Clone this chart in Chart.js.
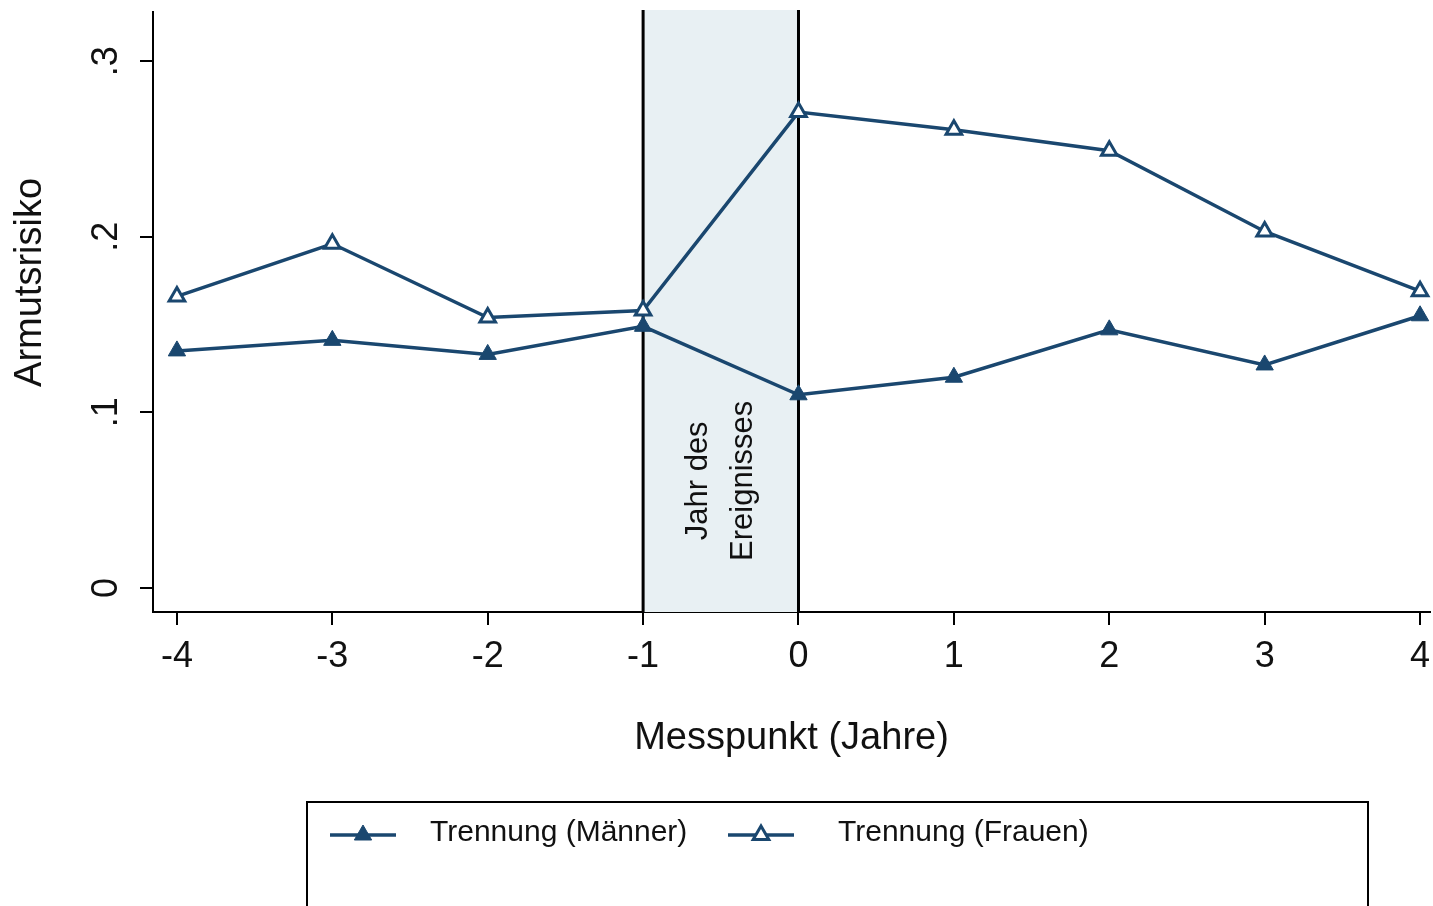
<!DOCTYPE html>
<html lang="de">
<head>
<meta charset="utf-8">
<title>Armutsrisiko nach Trennung</title>
<script src="https://cdn.jsdelivr.net/npm/chart.js@4.4.1/dist/chart.umd.min.js"></script>
<style>
  html, body { margin: 0; padding: 0; background: #fff; }
  #wrap { width: 1433px; height: 906px; }
</style>
</head>
<body>
<div id="wrap"><canvas id="chart"></canvas></div>
<script>
// Messpunkte relativ zum Jahr der Trennung
const X_VALUES = [-4, -3, -2, -1, 0, 1, 2, 3, 4]
const X_TICKS = [-4, -3, -2, -1, 0, 1, 2, 3, 4]
const Y_TICKS = [0, 0.1, 0.2, 0.3]
const Y_TICK_LABELS = ["0", ".1", ".2", ".3"]

const MAENNER = [0.135, 0.141, 0.133, 0.149, 0.110, 0.120, 0.147, 0.127, 0.155]
const FRAUEN = [0.166, 0.196, 0.154, 0.158, 0.271, 0.261, 0.249, 0.203, 0.169]

const SERIES_LABELS = ["Trennung (Männer)", "Trennung (Frauen)"]
const EVENT_LABEL = ["Jahr des", "Ereignisses"]
const EVENT_RANGE = [-1, 0]
const Y_TITLE = "Armutsrisiko"

const NAVY = "#1a476f"
const FONT = "'Liberation Sans', Arial, sans-serif"

const toPoints = ys => X_VALUES.map((x, i) => ({ x, y: ys[i] }))

// Schattierter Bereich "Jahr des Ereignisses" hinter den Linien
const eventBand = {
  id: "eventBand",
  beforeDatasetsDraw(chart) {
    const { ctx, chartArea, scales } = chart
    const x0 = scales.x.getPixelForValue(EVENT_RANGE[0])
    const x1 = scales.x.getPixelForValue(EVENT_RANGE[1])
    ctx.save()
    ctx.fillStyle = "#e8f0f3"
    ctx.fillRect(x0, chartArea.top - 2, x1 - x0, chartArea.bottom - chartArea.top + 2)
    ctx.strokeStyle = "#000"
    ctx.lineWidth = 3
    ;[x0, x1].forEach(x => {
      ctx.beginPath()
      ctx.moveTo(x, chartArea.top - 2)
      ctx.lineTo(x, chartArea.bottom)
      ctx.stroke()
    })
    // gedrehter Text
    ctx.fillStyle = "#111"
    ctx.font = "31px " + FONT
    ctx.textAlign = "center"
    ctx.textBaseline = "middle"
    const cy = scales.y.getPixelForValue(0.061)
    const cx = (x0 + x1) / 2
    EVENT_LABEL.forEach((line, i) => {
      ctx.save()
      ctx.translate(cx - 22 + i * 45, cy)
      ctx.rotate(-Math.PI / 2)
      ctx.fillText(line, 0, 0)
      ctx.restore()
    })
    // y-Achsentitel (etwas oberhalb der Mitte wie im Original)
    ctx.save()
    ctx.font = "38px " + FONT
    ctx.translate(31, scales.y.getPixelForValue(0.174))
    ctx.rotate(-Math.PI / 2)
    ctx.fillText(Y_TITLE, 0, 0)
    ctx.restore()
    ctx.restore()
  }
}

// Legende im Stata-Stil: Kasten unten, Linie mit Marker
const boxLegend = {
  id: "boxLegend",
  afterDraw(chart) {
    const { ctx } = chart
    ctx.save()
    ctx.strokeStyle = "#000"
    ctx.lineWidth = 2
    ctx.strokeRect(307, 802, 1061, 140)
    const items = [
      { x: 330, textX: 430 },
      { x: 728, textX: 838 }
    ]
    chart.data.datasets.forEach((ds, i) => {
      const it = items[i]
      const y = 835
      ctx.strokeStyle = ds.borderColor
      ctx.lineWidth = ds.borderWidth
      ctx.beginPath()
      ctx.moveTo(it.x, y)
      ctx.lineTo(it.x + 66, y)
      ctx.stroke()
      ctx.fillStyle = ds.pointBackgroundColor
      ctx.strokeStyle = ds.pointBorderColor
      ctx.lineWidth = ds.pointBorderWidth
      ctx.beginPath()
      const r = ds.pointRadius
      const cx = it.x + 33
      ctx.moveTo(cx, y - r)
      ctx.lineTo(cx + r * Math.sqrt(3) / 2, y + r / 2)
      ctx.lineTo(cx - r * Math.sqrt(3) / 2, y + r / 2)
      ctx.closePath()
      ctx.fill()
      ctx.stroke()
      ctx.fillStyle = "#111"
      ctx.font = "30px " + FONT
      ctx.textAlign = "left"
      ctx.textBaseline = "middle"
      ctx.fillText(ds.label, it.textX, y - 2)
    })
    ctx.restore()
  }
}

new Chart(document.getElementById("chart"), {
  type: "line",
  data: {
    datasets: [
      {
        label: SERIES_LABELS[0],
        data: toPoints(MAENNER),
        borderColor: NAVY,
        borderWidth: 3.5,
        pointStyle: "triangle",
        pointRadius: 10,
        pointBackgroundColor: NAVY,
        pointBorderColor: NAVY,
        pointBorderWidth: 1,
        tension: 0,
        clip: false
      },
      {
        label: SERIES_LABELS[1],
        data: toPoints(FRAUEN),
        borderColor: NAVY,
        borderWidth: 3.5,
        pointStyle: "triangle",
        pointRadius: 9,
        pointBackgroundColor: "#fff",
        pointBorderColor: NAVY,
        pointBorderWidth: 3,
        tension: 0,
        clip: false
      }
    ]
  },
  options: {
    responsive: true,
    maintainAspectRatio: false,
    animation: false,
    layout: { autoPadding: false, padding: { top: 12, right: 3, left: 0, bottom: 0 } },
    plugins: {
      legend: { display: false },
      tooltip: { enabled: false }
    },
    scales: {
      x: {
        type: "linear",
        min: -4.154,
        max: 4.064,
        afterBuildTicks: s => { s.ticks = X_TICKS.map(v => ({ value: v })) },
        afterFit: s => {
          s.height = 294
          s.paddingLeft = 0
          s.paddingRight = 0
        },
        grid: { drawOnChartArea: false, drawTicks: true, tickLength: 13, color: "#000", lineWidth: 2 },
        border: { color: "#000", width: 2 },
        ticks: {
          color: "#111",
          font: { family: FONT, size: 36 },
          padding: 10,
          maxRotation: 0,
          callback: v => String(v)
        },
        title: {
          display: true,
          text: "Messpunkt (Jahre)",
          color: "#111",
          font: { family: FONT, size: 38 },
          padding: { top: 0, bottom: 145 }
        }
      },
      y: {
        type: "linear",
        min: -0.0137,
        max: 0.328,
        afterBuildTicks: s => { s.ticks = Y_TICKS.map(v => ({ value: v })) },
        afterFit: s => {
          s.width = 153
          s.paddingTop = 0
          s.paddingBottom = 0
        },
        grid: { drawOnChartArea: false, drawTicks: true, tickLength: 13, color: "#000", lineWidth: 2 },
        border: { color: "#000", width: 2 },
        ticks: {
          color: "#111",
          font: { family: FONT, size: 36 },
          padding: 18,
          minRotation: 90,
          maxRotation: 90,
          crossAlign: "center",
          callback: v => Y_TICK_LABELS[Y_TICKS.indexOf(v)] ?? ""
        },
        title: { display: false }
      }
    }
  },
  plugins: [eventBand, boxLegend]
})
</script>
</body>
</html>
